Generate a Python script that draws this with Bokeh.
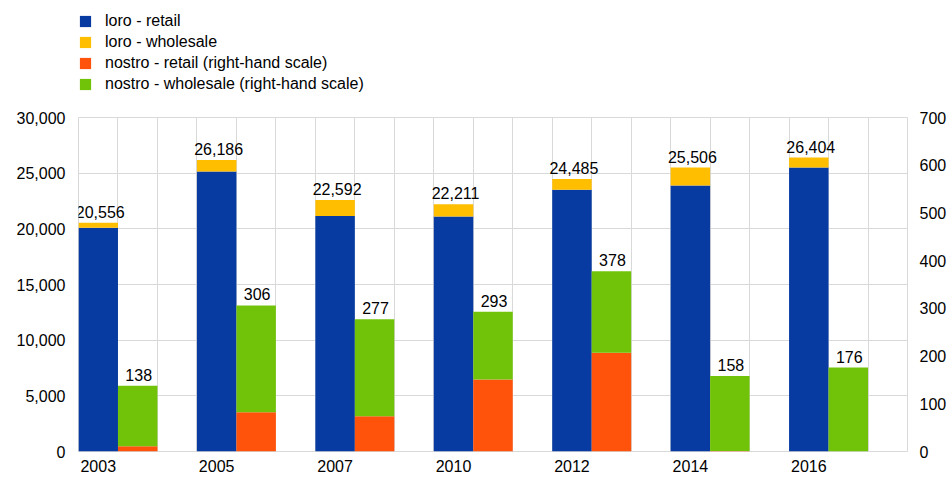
from bokeh.plotting import figure
from bokeh.layouts import column
from bokeh.models import (Range1d, LinearAxis, FixedTicker, NumeralTickFormatter,
                          ColumnDataSource, Legend, LegendItem, LabelSet)
from bokeh.core.properties import value
from bokeh.embed import file_html
from bokeh.resources import INLINE

years = ["2003", "2005", "2007", "2010", "2012", "2014", "2016"]
loro_retail = [20100, 25150, 21150, 21100, 23500, 23900, 25500]
loro_wholesale = [456, 1036, 1442, 1111, 985, 1606, 904]
nostro_retail = [11, 82, 74, 151, 207, 1, 0]
nostro_wholesale = [127, 224, 203, 142, 171, 157, 176]
left_ticks = [0, 5000, 10000, 15000, 20000, 25000, 30000]
right_ticks = [0, 100, 200, 300, 400, 500, 600, 700]
series_labels = ["loro - retail", "loro - wholesale",
                 "nostro - retail (right-hand scale)",
                 "nostro - wholesale (right-hand scale)"]

BLUE = "#073BA1"
YELLOW = "#FFBE00"
ORANGE = "#FF520A"
GREEN = "#71C30A"
GRID = "#D9D9D9"
FONT = "Liberation Sans"
COLORS = [BLUE, YELLOW, ORANGE, GREEN]

n = len(years)
x_loro = [3 * i + 0.5 for i in range(n)]
x_nostro = [3 * i + 1.5 for i in range(n)]
loro_total = [a + b for a, b in zip(loro_retail, loro_wholesale)]
nostro_total = [a + b for a, b in zip(nostro_retail, nostro_wholesale)]

src_l = ColumnDataSource(dict(x=x_loro, retail=loro_retail, wholesale=loro_wholesale,
                              total=loro_total,
                              label=[f"{v:,}" for v in loro_total]))
src_n = ColumnDataSource(dict(x=x_nostro, retail=nostro_retail, wholesale=nostro_wholesale,
                              total=nostro_total,
                              label=[f"{v:,}" for v in nostro_total]))

# ---- legend strip ----
pl = figure(width=949, height=100, output_backend="svg", toolbar_location=None,
            x_range=Range1d(0, 1), y_range=Range1d(0, 1),
            min_border_left=0, min_border_right=0, min_border_top=0,
            min_border_bottom=0)
pl.axis.visible = False
pl.grid.visible = False
pl.outline_line_color = None
items = []
for lab, col in zip(series_labels, COLORS):
    # swatch renderer: its single point lies outside the strip's visible range
    r = pl.rect(x=[5], y=[5], width=1, height=1, fill_color=col, line_color=None)
    items.append(LegendItem(label=lab, renderers=[r]))
legend = Legend(items=items, location=(0, 7))
legend.padding = 0
legend.margin = 0
legend.spacing = 3
legend.glyph_width = 14
legend.glyph_height = 14
legend.label_height = 14
legend.label_standoff = 13
legend.label_text_font = FONT
legend.label_text_font_size = "16px"
legend.label_text_color = "#000000"
legend.border_line_color = None
legend.background_fill_alpha = 0
pl.add_layout(legend)

# ---- main chart ----
p = figure(width=949, height=377, output_backend="svg", toolbar_location=None,
           x_range=Range1d(0, 3 * n), y_range=Range1d(0, 30000),
           min_border_left=78, min_border_right=42, min_border_top=17,
           min_border_bottom=26)
p.extra_y_ranges = {"right": Range1d(0, 700)}

p.vbar_stack(["retail", "wholesale"], x="x", width=1.0, source=src_l,
             color=[BLUE, YELLOW], line_color=None)
p.vbar_stack(["retail", "wholesale"], x="x", width=1.0, source=src_n,
             color=[ORANGE, GREEN], line_color=None, y_range_name="right")

lab_l = LabelSet(x="x", y="total", text="label", source=src_l, text_align="center",
                 text_baseline="bottom", x_offset=2, y_offset=5, text_font=value(FONT),
                 text_font_size="16px", text_color="#000000")
lab_n = LabelSet(x="x", y="total", text="label", source=src_n, text_align="center",
                 text_baseline="bottom", x_offset=1, y_offset=5, text_font=value(FONT),
                 text_font_size="16px", text_color="#000000", y_range_name="right")
p.add_layout(lab_l)
p.add_layout(lab_n)

p.xaxis.ticker = FixedTicker(ticks=x_loro)
p.xaxis.major_label_overrides = {x: y for x, y in zip(x_loro, years)}
p.yaxis.ticker = FixedTicker(ticks=left_ticks)
p.yaxis.formatter = NumeralTickFormatter(format="0,0")

ra = LinearAxis(y_range_name="right", ticker=FixedTicker(ticks=right_ticks))
p.add_layout(ra, "right")

for ax in [p.xaxis[0], p.yaxis[0], ra]:
    ax.axis_line_color = None
    ax.major_tick_line_color = None
    ax.minor_tick_line_color = None
    ax.major_tick_out = 0
    ax.major_label_text_font = FONT
    ax.major_label_text_font_size = "16px"
    ax.major_label_text_color = "#000000"
p.xaxis.major_label_standoff = 8
p.yaxis.major_label_standoff = 13
ra.major_label_standoff = 12

p.xgrid.ticker = FixedTicker(ticks=list(range(3 * n + 1)))
p.xgrid.grid_line_color = GRID
p.ygrid.grid_line_color = GRID
p.outline_line_color = GRID

layout = column(pl, p, spacing=0)
open("out.html", "w").write(file_html(layout, INLINE))
